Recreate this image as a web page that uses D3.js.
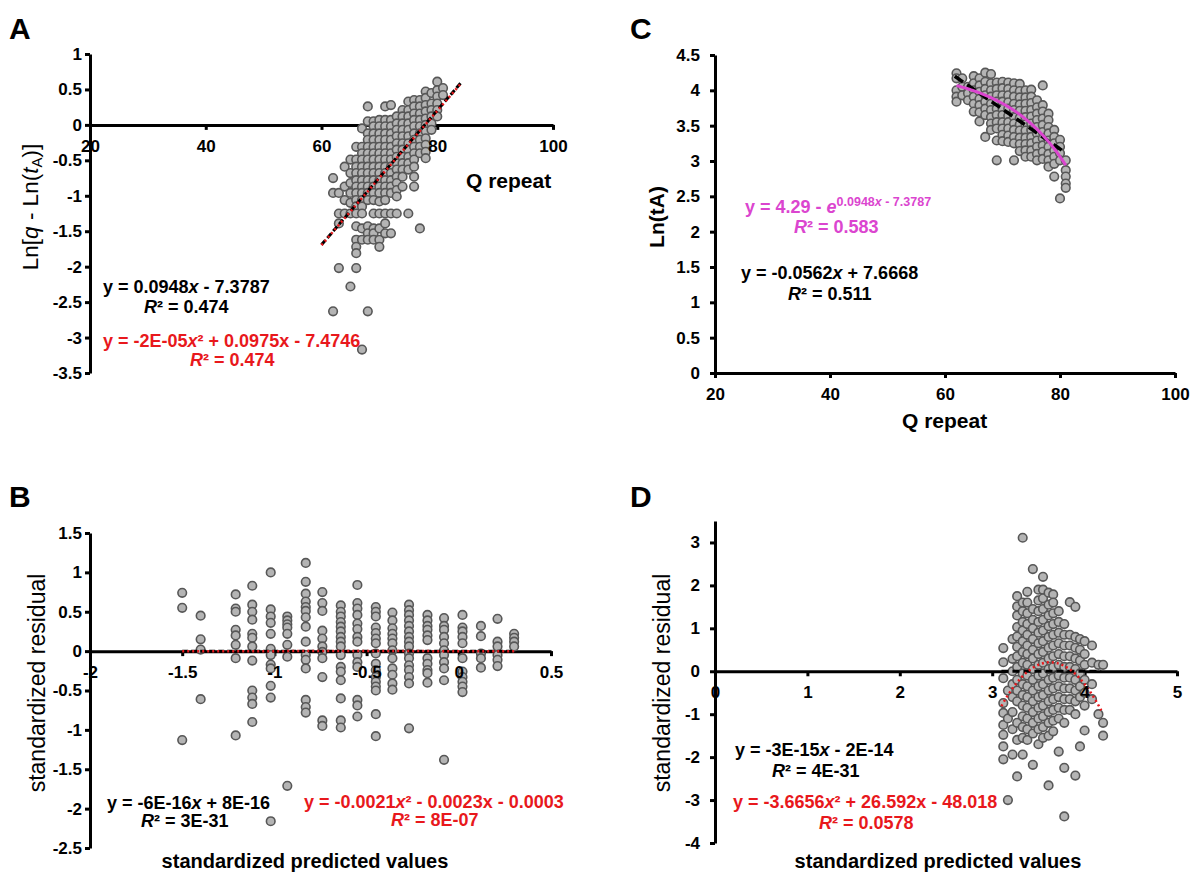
<!DOCTYPE html>
<html>
<head>
<meta charset="utf-8">
<script src="https://cdn.jsdelivr.net/npm/d3@7"></script>
<style>
  body { margin: 0; background: #fff; }
  svg text { font-family: "Liberation Sans", Arial, sans-serif; }
</style>
</head>
<body>
<svg id="fig" width="1200" height="888"></svg>
<script>
// ---- data, columns of [x, [y values]] ----
// A: Q repeat vs Ln[q - Ln(tA)]
const colsA = [
  [62, [-0.75, -0.96, -2.63]],
  [63, [-0.96, -1.25, -1.39, -2.02]],
  [64, [-0.59, -0.87, -1.06, -1.25]],
  [65, [-0.49, -0.68, -0.82, -0.96, -1.10, -1.25, -2.28]],
  [66, [-0.31, -0.49, -0.59, -0.68, -0.78, -0.87, -0.96, -1.06, -1.15, -1.25, -1.43, -1.62, -1.72, -1.81, -2.02]],
  [67, [-0.05, -0.31, -0.40, -0.49, -0.59, -0.68, -0.78, -0.87, -0.96, -1.06, -1.15, -1.25, -1.46, -1.62, -3.17]],
  [68, [0.26, 0.05, -0.12, -0.21, -0.31, -0.40, -0.49, -0.59, -0.68, -0.78, -0.87, -0.96, -1.06, -1.43, -1.53, -1.62, -2.63]],
  [69, [0.05, -0.02, -0.12, -0.21, -0.31, -0.40, -0.49, -0.59, -0.68, -0.78, -0.87, -0.96, -1.06, -1.25, -1.46, -1.53, -1.62]],
  [70, [0.07, -0.02, -0.12, -0.21, -0.31, -0.40, -0.49, -0.59, -0.68, -0.78, -0.87, -0.96, -1.08, -1.25, -1.46, -1.62, -1.72]],
  [71, [0.26, 0.07, -0.02, -0.12, -0.21, -0.31, -0.40, -0.49, -0.59, -0.68, -0.78, -0.87, -0.96, -1.06, -1.25, -1.39, -1.53]],
  [72, [0.28, 0.07, -0.02, -0.12, -0.21, -0.31, -0.40, -0.49, -0.59, -0.68, -0.78, -0.87, -0.96, -1.25, -1.53]],
  [73, [0.12, 0.02, -0.07, -0.16, -0.26, -0.35, -0.45, -0.54, -0.63, -0.73, -0.82, -0.92, -1.01, -1.25]],
  [74, [0.21, 0.12, 0.02, -0.07, -0.16, -0.26, -0.35, -0.45, -0.54, -0.63, -0.73, -0.87]],
  [75, [0.33, 0.21, 0.12, 0.02, -0.07, -0.16, -0.26, -0.35, -0.45, -0.54, -0.63, -1.25]],
  [76, [0.35, 0.26, 0.16, 0.07, -0.02, -0.12, -0.21, -0.31, -0.40, -0.49, -0.59, -0.73, -0.87]],
  [77, [0.35, 0.26, 0.16, 0.07, -0.02, -0.12, -0.21, -0.31, -0.40, -1.46]],
  [78, [0.47, 0.38, 0.28, 0.19, 0.09, 0.00, -0.09, -0.19, -0.28, -0.38, -0.47]],
  [79, [0.45, 0.30, 0.21, 0.12, 0.02, -0.07]],
  [80, [0.61, 0.49, 0.40, 0.30, 0.21, 0.12]],
  [81, [0.52, 0.42]]
];
// C: Q repeat vs Ln(tA)
const colsC = [
  [62, [4.24, 4.17, 4.00, 3.91, 3.84]],
  [63, [4.17, 4.05, 3.93]],
  [64, [4.05, 3.96, 3.86]],
  [65, [4.20, 4.10, 4.00, 3.91, 3.81, 3.70]],
  [66, [4.17, 4.07, 3.98, 3.88, 3.79, 3.69, 3.56]],
  [67, [4.25, 4.12, 4.02, 3.93, 3.84, 3.74, 3.65, 3.34]],
  [68, [4.23, 4.10, 4.00, 3.91, 3.81, 3.72, 3.62, 3.53, 3.44]],
  [69, [4.11, 4.02, 3.93, 3.84, 3.74, 3.65, 3.55, 3.46, 3.29, 3.01]],
  [70, [4.12, 4.03, 3.93, 3.84, 3.74, 3.65, 3.55, 3.46, 3.37, 3.28]],
  [71, [4.11, 4.02, 3.93, 3.83, 3.74, 3.64, 3.55, 3.46, 3.36, 3.27]],
  [72, [4.10, 4.00, 3.91, 3.81, 3.72, 3.62, 3.53, 3.44, 3.34, 3.25, 3.01]],
  [73, [4.09, 3.99, 3.90, 3.80, 3.71, 3.61, 3.52, 3.43, 3.33, 3.24, 3.14]],
  [74, [4.00, 3.90, 3.81, 3.71, 3.62, 3.52, 3.43, 3.33, 3.24, 3.15, 3.06]],
  [75, [4.01, 3.91, 3.82, 3.72, 3.63, 3.53, 3.44, 3.34, 3.25, 3.15, 3.06]],
  [76, [3.86, 3.76, 3.67, 3.58, 3.48, 3.39, 3.29, 3.20, 3.10, 3.01]],
  [77, [4.07, 3.79, 3.70, 3.60, 3.51, 3.41, 3.32, 3.22, 3.13, 3.03]],
  [78, [3.67, 3.58, 3.48, 3.39, 3.29, 3.20, 3.10, 3.01, 2.92]],
  [79, [3.44, 3.34, 3.25, 3.15, 3.06, 2.96, 2.78]],
  [80, [3.30, 3.20, 3.11, 3.01, 2.47]],
  [81, [3.01, 2.87, 2.78, 2.68, 2.62]]
];
// B: standardized predicted vs standardized residual
const colsB = [
  [-1.5, [0.74, 0.55, -1.13]],
  [-1.4, [0.45, 0.15, 0.02, -0.61]],
  [-1.21, [0.72, 0.54, 0.50, 0.27, 0.20, 0.08, -0.09, -1.07]],
  [-1.12, [0.83, 0.59, 0.50, 0.40, 0.22, 0.17, 0.06, -0.12, -0.50, -0.59, -0.67, -0.90]],
  [-1.02, [1.00, 0.53, 0.44, 0.36, 0.22, 0.03, -0.05, -0.17, -0.22, -0.44, -0.59, -2.16]],
  [-0.93, [0.44, 0.39, 0.34, 0.30, 0.22, 0.08, -0.07, -1.71]],
  [-0.83, [1.12, 0.88, 0.73, 0.63, 0.56, 0.51, 0.43, 0.31, 0.12, -0.05, -0.11, -0.22, -0.62, -0.71, -0.78]],
  [-0.74, [0.75, 0.61, 0.51, 0.26, 0.16, 0.06, -0.01, -0.09, -0.33, -0.88, -0.95]],
  [-0.64, [0.58, 0.50, 0.44, 0.37, 0.31, 0.25, 0.18, 0.12, 0.06, -0.05, -0.20, -0.26, -0.37, -0.60, -0.88, -0.97]],
  [-0.55, [0.84, 0.61, 0.54, 0.46, 0.35, 0.28, 0.18, 0.12, -0.05, -0.14, -0.20, -0.62, -0.69, -0.83]],
  [-0.45, [0.56, 0.50, 0.44, 0.30, 0.23, 0.16, 0.10, -0.03, -0.16, -0.24, -0.33, -0.39, -0.45, -0.50, -0.80, -1.08]],
  [-0.36, [0.49, 0.39, 0.29, 0.22, 0.16, 0.10, 0.01, -0.09, -0.22, -0.30, -0.41, -0.49]],
  [-0.27, [0.59, 0.52, 0.46, 0.39, 0.32, 0.25, 0.18, 0.12, 0.06, -0.03, -0.09, -0.18, -0.24, -0.33, -0.41, -0.98]],
  [-0.17, [0.46, 0.39, 0.32, 0.27, 0.20, 0.14, -0.09, -0.16, -0.24, -0.28, -0.40]],
  [-0.08, [0.42, 0.32, 0.27, 0.18, 0.10, 0.01, -0.05, -0.14, -0.22, -0.37, -1.38]],
  [0.02, [0.46, 0.30, 0.25, 0.18, 0.10, -0.09, -0.26, -0.33, -0.39, -0.45, -0.52]],
  [0.12, [0.32, 0.19, -0.03, -0.09, -0.21]],
  [0.21, [0.41, 0.12, 0.06, -0.05, -0.11, -0.19]],
  [0.30, [0.22, 0.17, 0.12, 0.06]]
];
// D: standardized predicted vs standardized residual
const colsD = [
  [3.12, [0.54, 0.21, -0.16, -0.74, -0.97, -1.25, -1.48, -1.75, -2.05]],
  [3.17, [-0.45, -1.10, -3.00]],
  [3.22, [0.75, 0.29, 0.00, -0.30, -0.60, -0.95, -1.35, -1.94]],
  [3.27, [1.75, 1.51, 1.30, 1.03, 0.81, 0.57, 0.35, 0.10, -0.20, -0.45, -0.70, -1.20, -1.60, -2.45]],
  [3.33, [3.11, 1.60, 1.40, 1.15, 0.95, 0.70, 0.45, 0.20, -0.05, -0.30, -0.55, -0.80, -1.05, -1.30, -1.55, -1.94]],
  [3.38, [1.85, 1.60, 1.35, 1.10, 0.85, 0.60, 0.40, 0.15, -0.10, -0.35, -0.60, -0.85, -1.10, -1.35, -1.60]],
  [3.44, [2.38, 1.45, 1.20, 1.00, 0.75, 0.50, 0.30, 0.05, -0.20, -0.45, -0.70, -0.95, -1.20, -1.45, -2.18]],
  [3.50, [1.90, 1.65, 1.40, 1.15, 0.90, 0.65, 0.40, 0.15, -0.10, -0.35, -0.60, -0.85, -1.10, -1.35, -1.70]],
  [3.55, [2.20, 1.90, 1.70, 1.45, 1.20, 0.95, 0.70, 0.45, 0.20, -0.05, -0.30, -0.55, -0.80, -1.05, -1.30, -1.55]],
  [3.61, [1.83, 1.55, 1.30, 1.05, 0.80, 0.55, 0.30, 0.05, -0.20, -0.45, -0.70, -0.95, -1.20, -1.50, -2.66]],
  [3.66, [1.79, 1.60, 1.35, 1.10, 0.85, 0.60, 0.35, 0.10, -0.15, -0.40, -0.65, -0.90, -1.15, -1.40]],
  [3.72, [1.40, 1.15, 0.90, 0.65, 0.40, 0.15, -0.10, -0.35, -0.60, -0.85, -1.10, -1.87]],
  [3.78, [1.10, 0.85, 0.60, 0.35, 0.10, -0.15, -0.40, -0.65, -0.90, -1.20, -2.25, -3.38]],
  [3.84, [1.61, 0.85, 0.60, 0.35, 0.10, -0.15, -0.40, -0.65, -0.90]],
  [3.90, [1.50, 0.80, 0.55, 0.30, 0.05, -0.20, -0.45, -0.70, -1.00, -2.43]],
  [3.95, [0.75, 0.50, 0.25, -0.05, -0.35, -0.60, -1.75]],
  [4.00, [0.70, 0.40, 0.15, -0.20, -0.50, -0.80, -1.38]],
  [4.08, [0.60, 0.20, -0.30, -0.65]],
  [4.15, [0.15, -1.00]],
  [4.20, [0.15, -1.20, -1.50]]
];

// trendline coefficients as printed on the figure
const linA = [0.0948, -7.3787];           // y = a x + b
const quadA = [-2e-5, 0.0975, -7.4746];   // y = a x^2 + b x + c
const linC = [-0.0562, 7.6668];
const expC = [4.29, 0.0948, -7.3787];     // y = k - e^(a x + b)
const quadB = [-0.0021, -0.0023, -0.0003];
const quadD = [-3.6656, 26.592, -48.018];

const svg = d3.select("#fig");
const ptFill = "#b4b4b4", ptStroke = "#575757";
const red = "#e8181c", magenta = "#db45cf";

const flat = cols => cols.flatMap(([x, ys]) => ys.map(y => [x, y]));

function panel(o) {
  const g = svg.append("g");
  const x = d3.scaleLinear(o.xDom, o.xRange);
  const y = d3.scaleLinear(o.yDom, o.yRange);
  const fmt = d => String(d);
  const xAxis = d3.axisBottom(x).tickValues(o.xTicks).tickSize(5).tickSizeOuter(0).tickPadding(10).tickFormat(fmt);
  const yAxis = d3.axisLeft(y).tickValues(o.yTicks).tickSize(5).tickSizeOuter(0).tickPadding(o.yPad).tickFormat(fmt);

  // axis lines under the points
  const xg = g.append("g").attr("transform", `translate(0,${y(0)})`).call(xAxis);
  const yg = g.append("g").attr("transform", `translate(${o.xRange[0]},0)`).call(yAxis);
  [xg, yg].forEach(a => {
    a.select(".domain").attr("stroke-width", 3);
    a.selectAll(".tick line").attr("stroke-width", 3);
    a.selectAll("text").remove();
  });

  g.append("g").selectAll("circle")
    .data(flat(o.cols))
    .join("circle")
      .attr("cx", d => x(d[0]))
      .attr("cy", d => y(d[1]))
      .attr("r", 4.3)
      .attr("fill", ptFill)
      .attr("stroke", ptStroke)
      .attr("stroke-width", 1.6);

  const line = d3.line().x(d => x(d[0])).y(d => y(d[1]));
  o.lines.forEach(l => {
    const xs = d3.range(0, 61).map(i => l.from + (l.to - l.from) * i / 60);
    g.append("path")
      .attr("d", line(xs.map(v => [v, l.f(v)])))
      .attr("fill", "none")
      .attr("stroke", l.color)
      .attr("stroke-width", l.width)
      .attr("stroke-dasharray", l.dash);
  });

  // tick labels on top
  [[xAxis, `translate(0,${y(0)})`], [yAxis, `translate(${o.xRange[0]},0)`]].forEach(([ax, tr]) => {
    const t = g.append("g").attr("transform", tr).call(ax);
    t.select(".domain").remove();
    t.selectAll(".tick line").remove();
    t.selectAll("text").attr("font-size", 17).attr("font-weight", "bold").attr("fill", "#000")
      .style("font-family", '"Liberation Sans", Arial, sans-serif');
  });

  // panel letter
  g.append("text").attr("x", o.letter[1]).attr("y", o.letter[2])
    .attr("font-size", 30).attr("font-weight", "bold").text(o.letter[0]);

  o.texts.forEach(t => eq(g, t));
  return g;
}

function eq(g, t) {
  const el = g.append("text")
    .attr("x", t.x).attr("y", t.y)
    .attr("font-size", t.size || 18)
    .attr("font-weight", t.weight || "bold")
    .attr("fill", t.color || "#000")
    .attr("text-anchor", t.anchor || "start");
  if (t.rotate) el.attr("transform", `rotate(-90,${t.x},${t.y})`);
  let off = 0;
  t.parts.forEach(([s, st]) => {
    st = st || "";
    const sp = el.append("tspan").text(s);
    let target = 0;
    if (st.includes("i")) sp.attr("font-style", "italic");
    if (st.includes("sup")) { target = -7; sp.attr("font-size", 12.5); }
    if (st.includes("sub")) { target = 4; sp.attr("font-size", 15); }
    if (target !== off) { sp.attr("dy", target - off); off = target; }
  });
}

// ---- A ----
panel({
  cols: colsA,
  xDom: [20, 100], xRange: [90, 553], xTicks: [20, 40, 60, 80, 100],
  yDom: [-3.5, 1], yRange: [373, 54], yTicks: d3.range(-3.5, 1.01, 0.5), yPad: 3,
  letter: ["A", 9, 39],
  lines: [
    { f: v => linA[0] * v + linA[1], from: 60, to: 84.2, color: "#000", width: 3, dash: "6,3" },
    { f: v => quadA[0] * v * v + quadA[1] * v + quadA[2], from: 60, to: 84.2, color: red, width: 2.5, dash: "2,3" }
  ],
  texts: [
    { x: 466, y: 188, size: 21, parts: [["Q repeat"]] },
    { x: 38, y: 207, size: 22.5, weight: "normal", anchor: "middle", rotate: true,
      parts: [["Ln["], ["q", "i"], [" - Ln("], ["t", "i"], ["A", "sub"], [")]"]] },
    { x: 103, y: 293, parts: [["y = 0.0948"], ["x", "i"], [" - 7.3787"]] },
    { x: 144, y: 313, parts: [["R", "i"], ["²"], [" = 0.474"]] },
    { x: 103, y: 347, color: red, parts: [["y = -2E-05"], ["x", "i"], ["²"], [" + 0.0975x - 7.4746"]] },
    { x: 190, y: 366, color: red, parts: [["R", "i"], ["²"], [" = 0.474"]] }
  ]
});

// ---- C ----
panel({
  cols: colsC,
  xDom: [20, 100], xRange: [715, 1175], xTicks: [20, 40, 60, 80, 100],
  yDom: [0, 4.5], yRange: [373, 55], yTicks: d3.range(0, 4.51, 0.5), yPad: 10,
  letter: ["C", 630, 39],
  lines: [
    { f: v => linC[0] * v + linC[1], from: 61.7, to: 81, color: "#000", width: 3.5, dash: "10,5" },
    { f: v => expC[0] - Math.exp(expC[1] * v + expC[2]), from: 62, to: 81, color: magenta, width: 3, dash: null }
  ],
  texts: [
    { x: 902, y: 428, size: 21, parts: [["Q repeat"]] },
    { x: 664, y: 217, size: 21, anchor: "middle", rotate: true, parts: [["Ln(tA)"]] },
    { x: 745, y: 213, color: magenta, parts: [["y = 4.29 - "], ["e", "i"], ["0.0948", "sup"], ["x", "supi"], [" - 7.3787", "sup"]] },
    { x: 794, y: 233, color: magenta, parts: [["R", "i"], ["²"], [" = 0.583"]] },
    { x: 741, y: 279, parts: [["y = -0.0562"], ["x", "i"], [" + 7.6668"]] },
    { x: 788, y: 300, parts: [["R", "i"], ["²"], [" = 0.511"]] }
  ]
});

// ---- B ----
panel({
  cols: colsB,
  xDom: [-2, 0.5], xRange: [90, 551], xTicks: [-2, -1.5, -1, -0.5, 0, 0.5],
  yDom: [-2.5, 1.5], yRange: [848, 533], yTicks: d3.range(-2.5, 1.51, 0.5), yPad: 3,
  letter: ["B", 9, 507],
  lines: [
    { f: v => 0, from: -1.5, to: 0.3, color: "#000", width: 3, dash: "6,3" },
    { f: v => quadB[0] * v * v + quadB[1] * v + quadB[2], from: -1.5, to: 0.3, color: red, width: 2.5, dash: "2,3" }
  ],
  texts: [
    { x: 305, y: 868, size: 20, anchor: "middle", parts: [["standardized predicted values"]] },
    { x: 45, y: 683, size: 23, weight: "normal", anchor: "middle", rotate: true, parts: [["standardized residual"]] },
    { x: 107, y: 809, parts: [["y = -6E-16"], ["x", "i"], [" + 8E-16"]] },
    { x: 141, y: 827, parts: [["R", "i"], ["²"], [" = 3E-31"]] },
    { x: 304, y: 808, color: red, parts: [["y = -0.0021"], ["x", "i"], ["²"], [" - 0.0023x - 0.0003"]] },
    { x: 391, y: 826, color: red, parts: [["R", "i"], ["²"], [" = 8E-07"]] }
  ]
});

// ---- D ----
panel({
  cols: colsD,
  xDom: [0, 5], xRange: [715, 1177], xTicks: [0, 1, 2, 3, 4, 5],
  yDom: [-4, 3.5], yRange: [843, 521], yTicks: [-4, -3, -2, -1, 0, 1, 2, 3], yPad: 10,
  letter: ["D", 630, 507],
  lines: [
    { f: v => 0, from: 3.1, to: 4.18, color: "#000", width: 3, dash: "7,4" },
    { f: v => quadD[0] * v * v + quadD[1] * v + quadD[2], from: 3.1, to: 4.18, color: red, width: 2.5, dash: "2,3" }
  ],
  texts: [
    { x: 938, y: 868, size: 20, anchor: "middle", parts: [["standardized predicted values"]] },
    { x: 670, y: 683, size: 23, weight: "normal", anchor: "middle", rotate: true, parts: [["standardized residual"]] },
    { x: 735, y: 756, parts: [["y = -3E-15"], ["x", "i"], [" - 2E-14"]] },
    { x: 772, y: 777, parts: [["R", "i"], ["²"], [" = 4E-31"]] },
    { x: 733, y: 808, color: red, parts: [["y = -3.6656"], ["x", "i"], ["²"], [" + 26.592x - 48.018"]] },
    { x: 819, y: 829, color: red, parts: [["R", "i"], ["²"], [" = 0.0578"]] }
  ]
});
</script>
</body>
</html>
